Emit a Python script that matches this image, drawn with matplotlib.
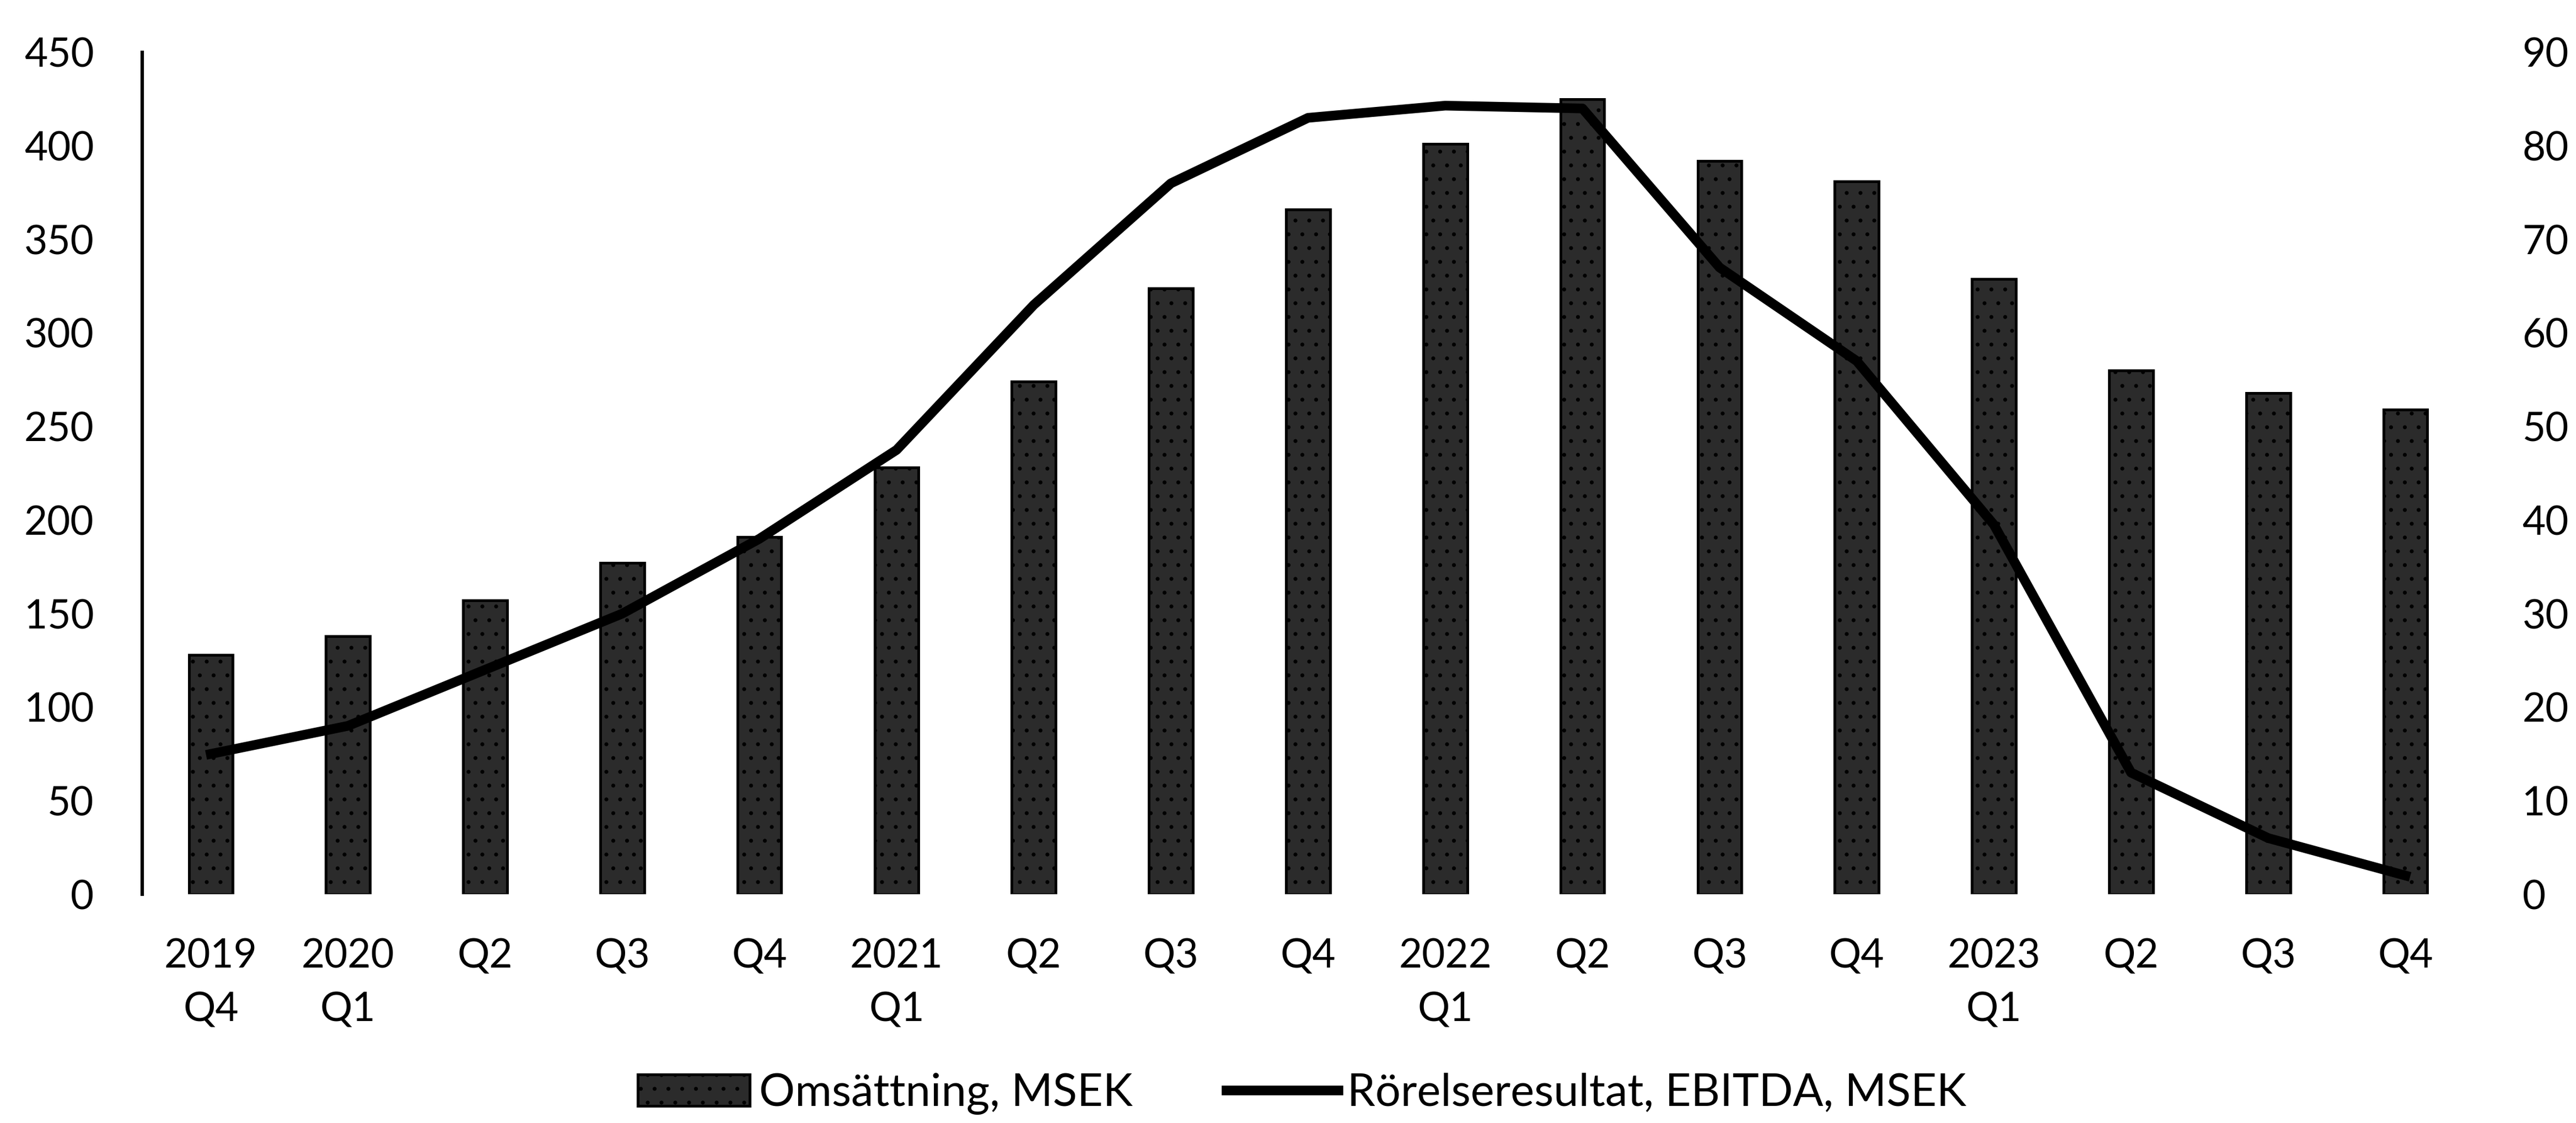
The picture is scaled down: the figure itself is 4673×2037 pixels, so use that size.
"""Omsättning and EBITDA per quarter, bars + line on twin axes."""

import matplotlib
matplotlib.use("Agg")
import matplotlib.pyplot as plt

plt.rcParams["font.family"] = ["Lato", "DejaVu Sans"]
plt.rcParams["hatch.color"] = "white"
plt.rcParams["hatch.linewidth"] = 0.5

quarters = ["2019\nQ4", "2020\nQ1", "Q2", "Q3", "Q4", "2021\nQ1", "Q2", "Q3", "Q4",
            "2022\nQ1", "Q2", "Q3", "Q4", "2023\nQ1", "Q2", "Q3", "Q4"]
omsattning = [128, 138, 157, 177, 191, 228, 274, 324, 366, 401, 425, 392, 381, 329, 280, 268, 259]
ebitda = [15, 18, 24, 30, 38, 47.5, 63, 76, 83, 84.3, 84, 67, 57, 39.5, 13, 6, 2]

left_ticks = [0, 50, 100, 150, 200, 250, 300, 350, 400, 450]
right_ticks = [0, 10, 20, 30, 40, 50, 60, 70, 80, 90]

fig = plt.figure(figsize=(4673 / 300, 2037 / 300), dpi=300)
ax = fig.add_axes([0.0552, 0.2037, 0.9052, 0.7497])
x = list(range(len(quarters)))

# Bars on the left axis
bars = ax.bar(x, omsattning, width=0.32, color="#2b2b2b", edgecolor="black",
              linewidth=1.2, hatch="..", label="Omsättning, MSEK", zorder=2)
ax.set_xlim(-0.5, len(quarters) - 0.5)
ax.set_ylim(0, 450)
ax.set_yticks(left_ticks)
ax.set_xticks(x)
ax.set_xticklabels(quarters, linespacing=1.55)
ax.tick_params(axis="y", length=0, pad=21, labelsize=17.5)
ax.tick_params(axis="x", length=0, pad=19, labelsize=17.5)
for side in ["top", "right", "bottom"]:
    ax.spines[side].set_visible(False)
ax.spines["left"].set_linewidth(1.5)

# Line on the right axis
ax2 = ax.twinx()
line, = ax2.plot(x, ebitda, color="black", linewidth=4.2, solid_joinstyle="round",
                 label="Rörelseresultat, EBITDA, MSEK", zorder=3)
ax2.set_ylim(0, 90)
ax2.set_yticks(right_ticks)
ax2.tick_params(axis="y", length=0, pad=21, labelsize=17.5)
for side in ["top", "right", "bottom", "left"]:
    ax2.spines[side].set_visible(False)

fig.legend([bars, line], ["Omsättning, MSEK", "Rörelseresultat, EBITDA, MSEK"],
           loc="center", bbox_to_anchor=(0.5055, 0.026), ncol=2, frameon=False,
           fontsize=19.5, handlelength=2.5, handletextpad=0.2, columnspacing=2.1,
           borderpad=0.2)

fig.savefig("out.png", dpi=300)
plt.close(fig)
